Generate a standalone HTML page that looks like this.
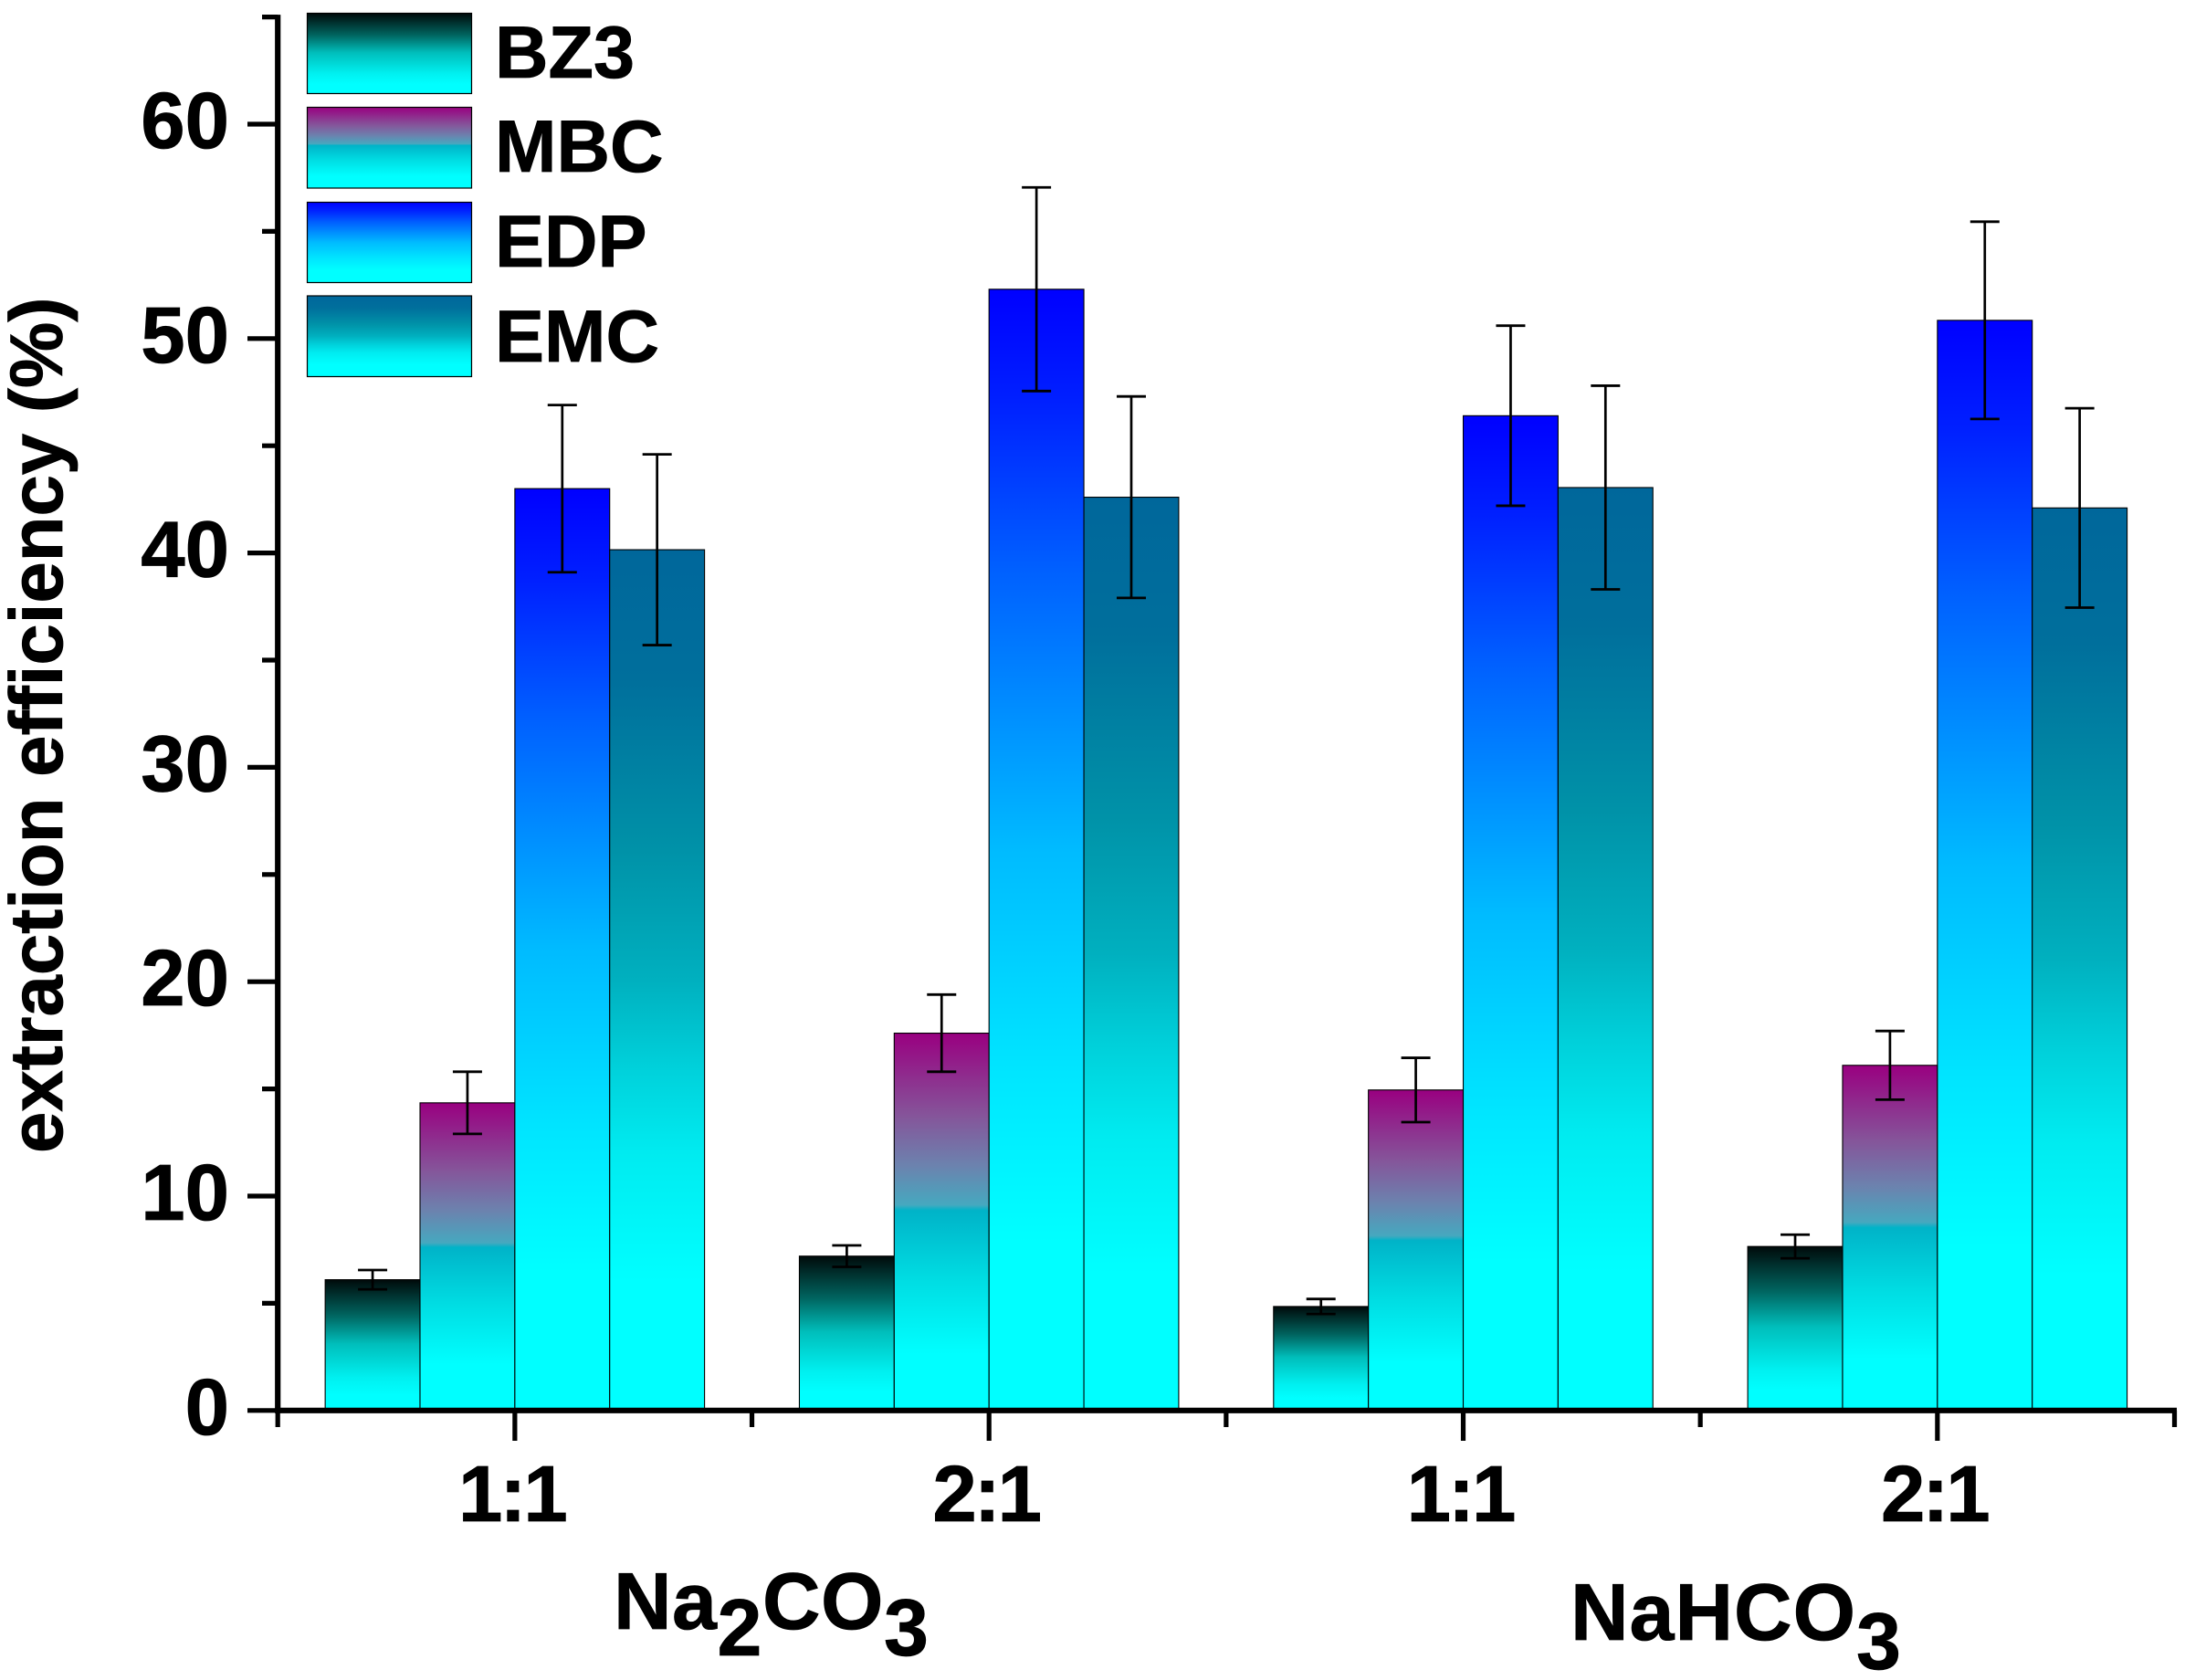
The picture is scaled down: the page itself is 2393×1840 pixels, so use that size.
<!DOCTYPE html>
<html lang="en">
<head>
<meta charset="utf-8">
<title>Extraction efficiency bar chart</title>
<style>
html,body{margin:0;padding:0;background:#fff;}
svg{display:block;}
text{font-family:"Liberation Sans",Arial,sans-serif;font-weight:700;fill:#000;stroke:#000;stroke-width:0.8px;}
</style>
</head>
<body>
<svg id="chart" xmlns="http://www.w3.org/2000/svg" width="2393" height="1840" viewBox="0 0 2393 1840">
  <defs>
    <linearGradient id="grad-bz3" x1="0" y1="0" x2="0" y2="1">
      <stop offset="0" stop-color="#000a0a"/>
      <stop offset="0.27" stop-color="#00645f"/>
      <stop offset="0.49" stop-color="#00bebb"/>
      <stop offset="0.75" stop-color="#00f0f0"/>
      <stop offset="0.88" stop-color="#00ffff"/>
      <stop offset="1" stop-color="#00ffff"/>
    </linearGradient>
    <linearGradient id="grad-mbc" x1="0" y1="0" x2="0" y2="1">
      <stop offset="0" stop-color="#990080"/>
      <stop offset="0.22" stop-color="#85559a"/>
      <stop offset="0.35" stop-color="#6c82ae"/>
      <stop offset="0.455" stop-color="#46a8bf"/>
      <stop offset="0.47" stop-color="#00b3c8"/>
      <stop offset="0.65" stop-color="#00dce2"/>
      <stop offset="0.85" stop-color="#00ffff"/>
      <stop offset="1" stop-color="#00ffff"/>
    </linearGradient>
    <linearGradient id="grad-edp" x1="0" y1="0" x2="0" y2="1">
      <stop offset="0" stop-color="#0000ff"/>
      <stop offset="0.1" stop-color="#0020ff"/>
      <stop offset="0.25" stop-color="#0060ff"/>
      <stop offset="0.5" stop-color="#00bbff"/>
      <stop offset="0.7" stop-color="#00e6ff"/>
      <stop offset="0.85" stop-color="#00ffff"/>
      <stop offset="1" stop-color="#00ffff"/>
    </linearGradient>
    <linearGradient id="grad-emc" x1="0" y1="0" x2="0" y2="1">
      <stop offset="0" stop-color="#00679b"/>
      <stop offset="0.15" stop-color="#006f9c"/>
      <stop offset="0.35" stop-color="#0092a8"/>
      <stop offset="0.5" stop-color="#00b0bf"/>
      <stop offset="0.6" stop-color="#00d0da"/>
      <stop offset="0.7" stop-color="#00ebf0"/>
      <stop offset="0.85" stop-color="#00ffff"/>
      <stop offset="1" stop-color="#00ffff"/>
    </linearGradient>
  </defs>

  <g id="bars"></g>
  <g id="errors"></g>
  <g id="axes"></g>
  <g id="labels"></g>

  <text transform="translate(68,1263) rotate(-90)" font-size="81.5">extraction efficiency (%)</text>

  <text x="672" y="1784" font-size="88" letter-spacing="0.5">Na<tspan dy="29">2</tspan><tspan dy="-29">CO</tspan><tspan dy="29">3</tspan></text>
  <text x="1720" y="1796" font-size="88" letter-spacing="1">NaHCO<tspan dy="32">3</tspan></text>

  <g>
    <g>
      <rect x="336.5" y="14.5" width="180" height="88" fill="url(#grad-bz3)" stroke="#000" stroke-width="1.2"/>
      <text x="542" y="85" font-size="81">BZ3</text>
    </g>
    <g>
      <rect x="336.5" y="117.5" width="180" height="88.5" fill="url(#grad-mbc)" stroke="#000" stroke-width="1.2"/>
      <text x="542" y="188" font-size="81">MBC</text>
    </g>
    <g>
      <rect x="336.5" y="221.5" width="180" height="88" fill="url(#grad-edp)" stroke="#000" stroke-width="1.2"/>
      <text x="542" y="292" font-size="81">EDP</text>
    </g>
    <g>
      <rect x="336.5" y="324" width="180" height="88.5" fill="url(#grad-emc)" stroke="#000" stroke-width="1.2"/>
      <text x="542" y="396" font-size="81">EMC</text>
    </g>
  </g>
</svg>

<script>
const categories = ["1:1", "2:1", "1:1", "2:1"];
const seriesNames = ["bz3", "mbc", "edp", "emc"];
const bz3Values = [6.1, 7.2, 4.85, 7.65];
const mbcValues = [14.35, 17.6, 14.95, 16.1];
const edpValues = [43.0, 52.3, 46.4, 50.85];
const emcValues = [40.15, 42.6, 43.05, 42.1];
const bz3Errors = [0.45, 0.5, 0.35, 0.55];
const mbcErrors = [1.45, 1.8, 1.5, 1.6];
const edpErrors = [3.9, 4.75, 4.2, 4.6];
const emcErrors = [4.45, 4.7, 4.75, 4.65];
const yMajorTicks = [0, 10, 20, 30, 40, 50, 60];
const yMinorTicks = [5, 15, 25, 35, 45, 55, 65];

const allValues = [bz3Values, mbcValues, edpValues, emcValues];
const allErrors = [bz3Errors, mbcErrors, edpErrors, emcErrors];

const NS = 'http://www.w3.org/2000/svg';
const plotLeft = 304.2, plotRight = 2381.5, plotBottom = 1544.8, plotTop = 18.6;
const yMin = 0, yMax = 65;
const catStep = (plotRight - plotLeft) / categories.length;
const barWidth = catStep / 5;

function yScale(v) {
  return plotBottom - (v - yMin) / (yMax - yMin) * (plotBottom - plotTop);
}
function xCenter(i) {
  return plotLeft + catStep * (i + 0.5);
}
function xBarLeft(i, s) {
  return xCenter(i) - barWidth * allValues.length / 2 + barWidth * s;
}
function make(tag, attrs, parent) {
  const el = document.createElementNS(NS, tag);
  for (const k in attrs) el.setAttribute(k, attrs[k]);
  parent.appendChild(el);
  return el;
}

const barsLayer = document.getElementById('bars');
const errorsLayer = document.getElementById('errors');
const axesLayer = document.getElementById('axes');
const labelsLayer = document.getElementById('labels');

allValues.forEach(function (vals, s) {
  vals.forEach(function (v, i) {
    const bar = make('rect', {
      x: xBarLeft(i, s),
      y: yScale(v),
      width: barWidth,
      height: yScale(0) - yScale(v),
      fill: 'url(#grad-' + seriesNames[s] + ')',
      stroke: '#000',
      'stroke-width': 1.1
    }, barsLayer);
    
    

    const cx = xBarLeft(i, s) + barWidth / 2;
    const e = allErrors[s][i];
    const stem = make('line', {
      x1: cx, x2: cx, y1: yScale(v + e), y2: yScale(v - e),
      stroke: '#000', 'stroke-width': 2.7
    }, errorsLayer);
    
    
    [v + e, v - e].forEach(function (cap) {
      const c = make('line', {
        x1: cx - 16, x2: cx + 16, y1: yScale(cap), y2: yScale(cap),
        stroke: '#000', 'stroke-width': 2.8
      }, errorsLayer);
      
      
    });
  });
});

const yAxisLine = make('line', {
  x1: plotLeft, x2: plotLeft, y1: plotTop - 2.5, y2: plotBottom + 3,
  stroke: '#000', 'stroke-width': 6.2
}, axesLayer);



const xAxisLine = make('line', {
  x1: plotLeft - 3, x2: plotRight + 2.5, y1: plotBottom, y2: plotBottom,
  stroke: '#000', 'stroke-width': 6.2
}, axesLayer);



yMajorTicks.forEach(function (t) {
  const tick = make('line', {
    x1: 271, x2: plotLeft, y1: yScale(t), y2: yScale(t),
    stroke: '#000', 'stroke-width': 5.2
  }, axesLayer);
  
  
  const label = make('text', {
    x: 251, y: yScale(t) + 26, 'font-size': 87, 'text-anchor': 'end'
  }, labelsLayer);
  label.textContent = String(t);
  
  
});

yMinorTicks.forEach(function (t) {
  const tick = make('line', {
    x1: 287, x2: plotLeft, y1: yScale(t), y2: yScale(t),
    stroke: '#000', 'stroke-width': 5.2
  }, axesLayer);
  
  
});

for (let i = 0; i <= categories.length; i++) {
  const x = plotLeft + catStep * i;
  const edge = make('line', {
    x1: x, x2: x, y1: plotBottom, y2: 1563,
    stroke: '#000', 'stroke-width': 5.2
  }, axesLayer);
  
  
}

categories.forEach(function (c, i) {
  const x = xCenter(i);
  const tick = make('line', {
    x1: x, x2: x, y1: plotBottom, y2: 1578,
    stroke: '#000', 'stroke-width': 5.2
  }, axesLayer);
  
  
  const label = make('text', {
    x: x - 3.5, y: 1666, 'font-size': 87, 'text-anchor': 'middle', 'letter-spacing': -3
  }, labelsLayer);
  label.textContent = c;
  
  
});
</script>
</body>
</html>
